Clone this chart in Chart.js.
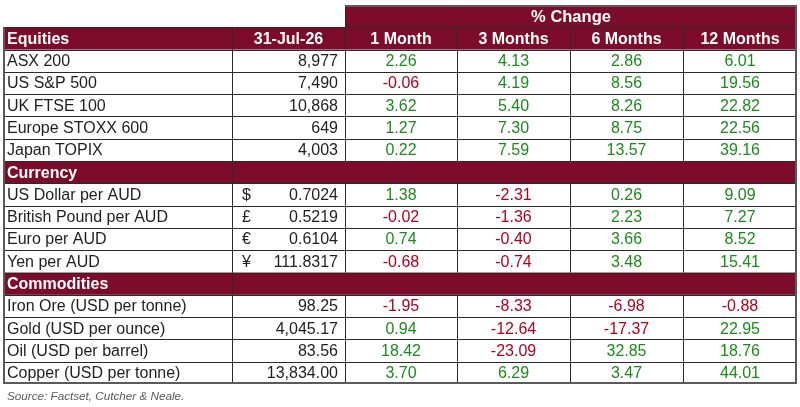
<!DOCTYPE html>
<html>
<head>
<meta charset="utf-8">
<script src="https://cdn.jsdelivr.net/npm/chart.js@4/dist/chart.umd.min.js"></script>
<style>
  html, body { margin: 0; padding: 0; background: #fff; }
  #wrap { width: 800px; height: 407px; }
</style>
</head>
<body>
<div id="wrap"><canvas id="tableChart"></canvas></div>
<script>
'use strict'

// Table data
var periodLabels = ['1 Month', '3 Months', '6 Months', '12 Months'];
var dateLabel = '31-Jul-26';
var groupLabel = '% Change';
var sourceNote = 'Source: Factset, Cutcher & Neale.';

var equityNames = ['ASX 200', 'US S&P 500', 'UK FTSE 100', 'Europe STOXX 600', 'Japan TOPIX'];
var equityLevels = ['8,977', '7,490', '10,868', '649', '4,003'];
var equityChanges = [
  [2.26, 4.13, 2.86, 6.01],
  [-0.06, 4.19, 8.56, 19.56],
  [3.62, 5.40, 8.26, 22.82],
  [1.27, 7.30, 8.75, 22.56],
  [0.22, 7.59, 13.57, 39.16]
];

var currencyNames = ['US Dollar per AUD', 'British Pound per AUD', 'Euro per AUD', 'Yen per AUD'];
var currencySymbols = ['$', '£', '€', '¥'];
var currencyLevels = ['0.7024', '0.5219', '0.6104', '111.8317'];
var currencyChanges = [
  [1.38, -2.31, 0.26, 9.09],
  [-0.02, -1.36, 2.23, 7.27],
  [0.74, -0.40, 3.66, 8.52],
  [-0.68, -0.74, 3.48, 15.41]
];

var commodityNames = ['Iron Ore (USD per tonne)', 'Gold (USD per ounce)', 'Oil (USD per barrel)', 'Copper (USD per tonne)'];
var commodityLevels = ['98.25', '4,045.17', '83.56', '13,834.00'];
var commodityChanges = [
  [-1.95, -8.33, -6.98, -0.88],
  [0.94, -12.64, -17.37, 22.95],
  [18.42, -23.09, 32.85, 18.76],
  [3.70, 6.29, 3.47, 44.01]
];

// Layout (column edges in table units, x scale runs 0..794)
var colEdges = [0, 229, 342, 454, 567, 680, 794];
var maroon = '#7d0c2c';
var green = '#1b8a1b';
var red = '#b0001e';
var ink = '#1e1e1e';
var font = '"Liberation Sans", Arial, sans-serif';

// Build row list
var rows = [{ kind: 'group' }];
rows.push({ kind: 'head', name: 'Equities', level: dateLabel, changes: periodLabels });
equityNames.forEach(function(n, i) {
  rows.push({ kind: 'body', name: n, level: equityLevels[i], changes: equityChanges[i] });
});
rows.push({ kind: 'section', name: 'Currency' });
currencyNames.forEach(function(n, i) {
  rows.push({ kind: 'body', name: n, symbol: currencySymbols[i], level: currencyLevels[i], changes: currencyChanges[i] });
});
rows.push({ kind: 'section', name: 'Commodities' });
commodityNames.forEach(function(n, i) {
  rows.push({ kind: 'body', name: n, level: commodityLevels[i], changes: commodityChanges[i] });
});

function crisp(v) { return Math.round(v) + 0.5; }

var tablePlugin = {
  id: 'tablePlugin',
  afterDraw: function(chart) {
    var ctx = chart.ctx;
    var xs = chart.scales.x;
    var ys = chart.scales.y;
    var X = function(v) { return xs.getPixelForValue(v); };
    var Y = function(v) { return ys.getPixelForValue(v); };

    ctx.save();

    // Fills
    rows.forEach(function(r, i) {
      var top = Y(i), bottom = Y(i + 1);
      var x0 = r.kind === 'group' ? X(colEdges[2]) : X(colEdges[0]);
      if (r.kind !== 'body') {
        ctx.fillStyle = maroon;
        ctx.fillRect(x0, top, X(colEdges[6]) - x0, bottom - top);
      }
    });

    // Grid lines
    ctx.lineWidth = 1;
    ctx.strokeStyle = '#2a2a2a';
    rows.forEach(function(r, i) {
      var top = Y(i), bottom = Y(i + 1);
      var x0 = r.kind === 'group' ? colEdges[2] : colEdges[0];
      // top edge of row
      ctx.beginPath();
      ctx.moveTo(X(x0), crisp(top));
      ctx.lineTo(X(colEdges[6]), crisp(top));
      ctx.stroke();
      // vertical dividers
      var inner = [];
      if (r.kind === 'group') inner = [2];
      else if (r.kind === 'section') inner = [1];
      else inner = [1, 2, 3, 4, 5];
      inner.forEach(function(c) {
        ctx.beginPath();
        ctx.moveTo(crisp(X(colEdges[c])), top);
        ctx.lineTo(crisp(X(colEdges[c])), bottom);
        ctx.stroke();
      });
    });

    // Outer border
    ctx.strokeStyle = '#5a5a5a';
    ctx.lineWidth = 2;
    var l = X(colEdges[0]) + 1, rgt = X(colEdges[6]) - 1;
    var t1 = Y(1), b = Y(rows.length) - 1;
    ctx.beginPath();
    ctx.moveTo(l, t1);
    ctx.lineTo(l, b);
    ctx.lineTo(rgt, b);
    ctx.lineTo(rgt, Y(0) + 1);
    ctx.lineTo(X(colEdges[2]), Y(0) + 1);
    ctx.stroke();

    // Text
    ctx.textBaseline = 'middle';
    rows.forEach(function(r, i) {
      var cy = Y(i + 0.5) + 1;
      if (r.kind === 'group') {
        ctx.font = 'bold 16.5px ' + font;
        ctx.fillStyle = '#fff';
        ctx.textAlign = 'center';
        ctx.fillText(groupLabel, (X(colEdges[2]) + X(colEdges[6])) / 2, cy);
        return;
      }
      if (r.kind === 'head' || r.kind === 'section') {
        ctx.font = 'bold 16px ' + font;
        ctx.fillStyle = '#fff';
        ctx.textAlign = 'left';
        ctx.fillText(r.name, X(colEdges[0]) + 4, cy);
        if (r.kind === 'head') {
          ctx.textAlign = 'center';
          ctx.fillText(r.level, (X(colEdges[1]) + X(colEdges[2])) / 2, cy);
          r.changes.forEach(function(p, j) {
            ctx.fillText(p, (X(colEdges[j + 2]) + X(colEdges[j + 3])) / 2, cy);
          });
        }
        return;
      }
      ctx.font = '16px ' + font;
      ctx.fillStyle = ink;
      ctx.textAlign = 'left';
      ctx.fillText(r.name, X(colEdges[0]) + 4, cy);
      if (r.symbol) ctx.fillText(r.symbol, X(colEdges[1]) + 10, cy);
      ctx.textAlign = 'right';
      ctx.fillText(r.level, X(colEdges[2]) - 7, cy);
      ctx.textAlign = 'center';
      r.changes.forEach(function(v, j) {
        ctx.fillStyle = v < 0 ? red : green;
        ctx.fillText(v.toFixed(2), (X(colEdges[j + 2]) + X(colEdges[j + 3])) / 2, cy);
      });
    });

    // Source note
    ctx.font = 'italic 11.7px ' + font;
    ctx.fillStyle = '#595959';
    ctx.textAlign = 'left';
    ctx.fillText(sourceNote, X(colEdges[0]) + 4, Y(rows.length) + 13);

    ctx.restore();
  }
};

var chart = new Chart(document.getElementById('tableChart'), {
  type: 'scatter',
  data: { datasets: [] },
  options: {
    responsive: true,
    maintainAspectRatio: false,
    animation: false,
    layout: { padding: { left: 3, right: 3, top: 5, bottom: 23 } },
    plugins: { legend: { display: false }, tooltip: { enabled: false } },
    scales: {
      x: { type: 'linear', min: 0, max: colEdges[colEdges.length - 1], display: false },
      y: { type: 'linear', min: 0, max: rows.length, reverse: true, display: false }
    }
  },
  plugins: [tablePlugin]
});
</script>
</body>
</html>
